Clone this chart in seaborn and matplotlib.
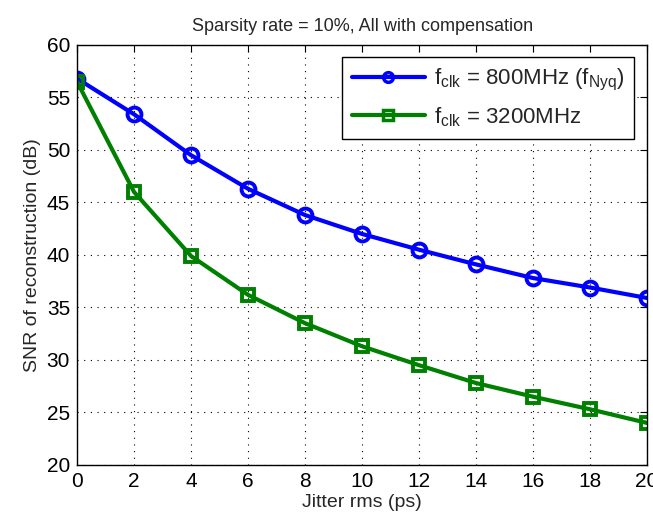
import matplotlib
matplotlib.use("Agg")
import matplotlib.pyplot as plt
import seaborn as sns
import pandas as pd

jitter_ps = [0, 2, 4, 6, 8, 10, 12, 14, 16, 18, 20]
snr_800 = [56.8, 53.4, 49.5, 46.3, 43.8, 42.0, 40.5, 39.1, 37.8, 36.9, 35.9]
snr_3200 = [56.5, 46.0, 39.9, 36.2, 33.5, 31.3, 29.5, 27.8, 26.5, 25.3, 24.0]
series_labels = [r"f$_{\rm clk}$ = 800MHz (f$_{\rm Nyq}$)", r"f$_{\rm clk}$ = 3200MHz"]
series_colors = ["#0000ff", "#008000"]
series_markers = ["o", "s"]
x_ticks = list(range(0, 21, 2))
y_ticks = list(range(20, 61, 5))

sns.set_theme(style="white")
plt.rcParams["font.family"] = ["Liberation Sans", "DejaVu Sans"]
plt.rcParams["mathtext.fontset"] = "custom"
plt.rcParams["mathtext.rm"] = "Liberation Sans"

fig = plt.figure(figsize=(6.53, 5.23), dpi=100)
ax = fig.add_axes([0.118, 0.111, 0.873, 0.803])

for vals, lab, col, mk in zip([snr_800, snr_3200], series_labels, series_colors, series_markers):
    df = pd.DataFrame({"jitter": jitter_ps, "snr": vals})
    sns.lineplot(data=df, x="jitter", y="snr", color=col, linewidth=3, label=lab, ax=ax,
                 marker=mk, markersize=10 if mk == "o" else 9, markeredgewidth=2.8,
                 markerfacecolor="none", markeredgecolor=col)

ax.set_xlim(0, 20)
ax.set_ylim(20, 60)
ax.set_xticks(x_ticks)
ax.set_yticks(y_ticks)
ax.tick_params(direction="in", length=5, width=0.8, labelsize=15, top=True, right=True,
               colors="black", pad=5)
ax.grid(True, linestyle=(0, (1, 5)), color="black", linewidth=0.8)
for s in ax.spines.values():
    s.set_color("black")
    s.set_linewidth(1.0)

ax.set_xlabel("Jitter rms (ps)", fontsize=14, labelpad=2)
ax.set_ylabel("SNR of reconstruction (dB)", fontsize=14)
ax.set_title("Sparsity rate = 10%, All with compensation", fontsize=13, pad=10)

leg = ax.legend(loc="upper right", fontsize=16, frameon=True, fancybox=False,
                edgecolor="black", framealpha=1, handlelength=3.3, labelspacing=0.55,
                borderpad=0.45, handletextpad=0.4, bbox_to_anchor=(0.997, 0.998))
leg.get_frame().set_linewidth(1.0)
for h in leg.legend_handles:
    h.set_markersize(7)
    h.set_markeredgewidth(2.5)

fig.savefig("out.png", dpi=100)
